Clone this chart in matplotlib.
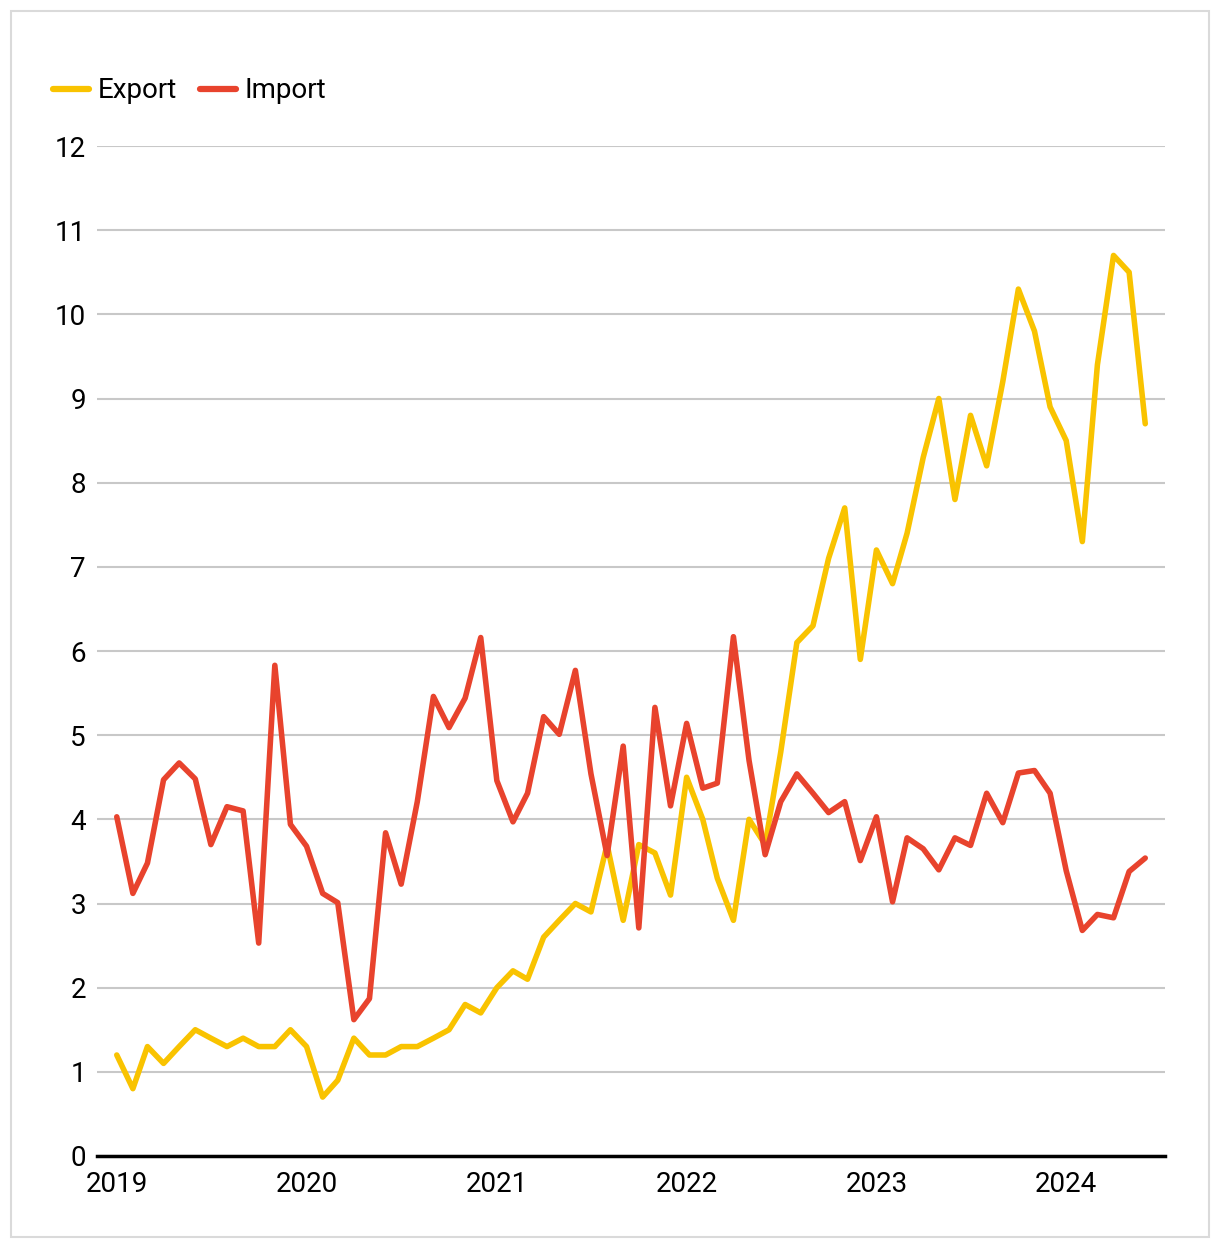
import matplotlib
matplotlib.use("Agg")
import matplotlib.pyplot as plt
from matplotlib.patches import Rectangle
import pandas as pd

months = pd.date_range("2019-01-01", periods=66, freq="MS")

export = [1.2, 0.8, 1.3, 1.1, 1.3, 1.5, 1.4, 1.3, 1.4, 1.3, 1.3, 1.5,
          1.3, 0.7, 0.9, 1.4, 1.2, 1.2, 1.3, 1.3, 1.4, 1.5, 1.8, 1.7,
          2.0, 2.2, 2.1, 2.6, 2.8, 3.0, 2.9, 3.7, 2.8, 3.7, 3.6, 3.1,
          4.5, 4.0, 3.3, 2.8, 4.0, 3.7, 4.8, 6.1, 6.3, 7.1, 7.7, 5.9,
          7.2, 6.8, 7.4, 8.3, 9.0, 7.8, 8.8, 8.2, 9.2, 10.3, 9.8, 8.9,
          8.5, 7.3, 9.4, 10.7, 10.5, 8.7]

imports = [4.03, 3.12, 3.48, 4.47, 4.67, 4.48, 3.70, 4.15, 4.10, 2.53, 5.83, 3.94,
           3.68, 3.12, 3.01, 1.62, 1.87, 3.84, 3.23, 4.21, 5.46, 5.09, 5.44, 6.16,
           4.46, 3.97, 4.31, 5.22, 5.01, 5.77, 4.54, 3.57, 4.87, 2.71, 5.33, 4.16,
           5.14, 4.37, 4.43, 6.17, 4.70, 3.58, 4.21, 4.54, 4.31, 4.08, 4.21, 3.51,
           4.03, 3.02, 3.78, 3.65, 3.40, 3.78, 3.69, 4.31, 3.96, 4.55, 4.58, 4.31,
           3.39, 2.68, 2.87, 2.83, 3.38, 3.54]

year_ticks = ["2019", "2020", "2021", "2022", "2023", "2024"]
y_ticks = list(range(0, 13))

plt.rcParams["font.family"] = ["Roboto", "DejaVu Sans"]

W, H = 1220, 1248
fig = plt.figure(figsize=(W / 100, H / 100), dpi=100)

# outer light border
fig.patches.append(Rectangle((11 / W, 11 / H), (1209 - 11) / W, (1237 - 11) / H,
                             transform=fig.transFigure, fill=False,
                             edgecolor="#dadada", linewidth=1.5))

ax = fig.add_axes([97 / W, 1 - 1156 / H, (1165 - 97) / W, (1156 - 146) / H])

c_exp = "#F9C300"
c_imp = "#E8432D"
ax.plot(months, export, color=c_exp, lw=4, label="Export",
        solid_joinstyle="round", solid_capstyle="round", zorder=3)
ax.plot(months, imports, color=c_imp, lw=4, label="Import",
        solid_joinstyle="round", solid_capstyle="round", zorder=4)

ax.set_ylim(0, 12)
ax.set_yticks(y_ticks)
ax.set_xlim(pd.Timestamp("2018-11-24"), pd.Timestamp("2024-07-09"))
ax.set_xticks([pd.Timestamp(f"{y}-01-01") for y in year_ticks])
ax.set_xticklabels(year_ticks)

ax.grid(axis="y", color="#c8c8c8", lw=1.5)
ax.grid(axis="x", visible=False)
ax.set_axisbelow(True)
for s in ["top", "right", "left"]:
    ax.spines[s].set_visible(False)
ax.spines["bottom"].set_color("black")
ax.spines["bottom"].set_linewidth(2.5)
ax.spines["bottom"].set_zorder(5)

ax.tick_params(axis="both", length=0, labelsize=20, colors="black")
ax.tick_params(axis="y", pad=8)
ax.tick_params(axis="x", pad=11)

leg = ax.legend(loc="center left", bbox_to_anchor=(53 / W, 1 - 91 / H),
                bbox_transform=fig.transFigure, ncol=2, frameon=False,
                fontsize=20, handlelength=1.3, handletextpad=0.3,
                columnspacing=0.85, borderpad=0, borderaxespad=0)
for line in leg.get_lines():
    line.set_linewidth(4.5)
    line.set_solid_capstyle("round")

fig.savefig("out.png", dpi=100)
